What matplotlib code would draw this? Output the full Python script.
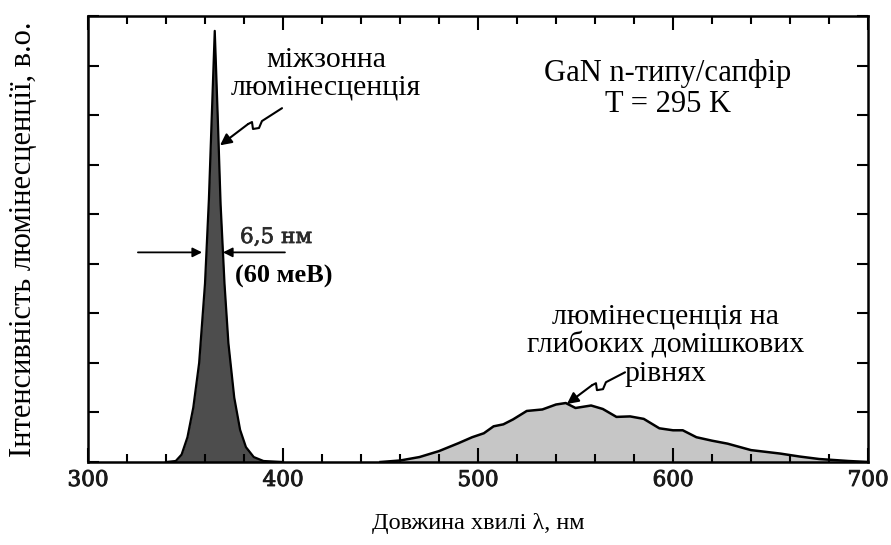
import numpy as np
import matplotlib
matplotlib.use("Agg")
import matplotlib.pyplot as plt
import matplotlib.patheffects as pe
from matplotlib.ticker import MultipleLocator

# Band-edge (interband) luminescence peak: wavelength (nm) and intensity (arb. units)
edge_wl = [340, 345, 348, 351, 354, 357, 360, 362, 363.5, 365, 366.5, 368, 370,
           372, 375, 378, 381, 385, 390, 400]
edge_int = [0.0, 0.02, 0.15, 0.5, 1.1, 2.0, 3.6, 5.3, 7.0, 8.7, 7.0, 5.2, 3.6,
            2.4, 1.3, 0.65, 0.3, 0.1, 0.02, 0.0]

# Deep-level (yellow band) luminescence
deep_wl = [450, 460, 470, 480, 490, 497, 503, 508, 513, 518, 525, 533, 540, 545,
           550, 558, 564, 571, 578, 585, 593, 600, 605, 612, 620, 628, 640, 655,
           665, 675, 690, 700]
deep_int = [0.0, 0.03, 0.1, 0.22, 0.38, 0.5, 0.58, 0.72, 0.76, 0.86, 1.03, 1.06,
            1.16, 1.19, 1.09, 1.14, 1.07, 0.91, 0.92, 0.87, 0.68, 0.64, 0.64, 0.5,
            0.43, 0.37, 0.24, 0.17, 0.11, 0.06, 0.02, 0.0]

xticks = [300, 400, 500, 600, 700]
xlabels = ["300", "400", "500", "600", "700"]

SERIF = ["Liberation Serif", "DejaVu Serif"]
heavy = [pe.withStroke(linewidth=0.7, foreground="#1a1a1a")]

fig = plt.figure(figsize=(8.91, 5.45), dpi=100)
ax = fig.add_axes([88 / 891, 1 - 462 / 545, (868 - 88) / 891, (462 - 16) / 545])

ax.fill_between(edge_wl, edge_int, color="#4d4d4d", lw=0)
ax.plot(edge_wl, edge_int, color="black", lw=1.6)
ax.fill_between(deep_wl, deep_int, color="#c6c6c6", lw=0)
ax.plot(deep_wl, deep_int, color="black", lw=1.8)

ax.set_xlim(300, 700)
ax.set_ylim(0, 9.0)
ax.set_xticks(xticks)
ax.set_xticklabels(xlabels, fontfamily="DejaVu Serif", fontsize=15.5, color="#1a1a1a",
                   path_effects=heavy)
ax.xaxis.set_minor_locator(MultipleLocator(20))
ax.yaxis.set_major_locator(MultipleLocator(1))
ax.tick_params(axis="both", which="both", direction="in", top=True, right=True,
               width=1.5, color="black")
ax.tick_params(axis="x", which="major", length=10, pad=5)
ax.tick_params(axis="x", which="minor", length=6)
ax.tick_params(axis="y", which="major", length=8, labelleft=False)
for sp in ax.spines.values():
    sp.set_linewidth(1.8)

ax.set_xlabel("Довжина хвилі λ, нм", fontfamily=SERIF, fontsize=17.5, labelpad=16)
ax.set_ylabel("Інтенсивність люмінесценції, в.о.", fontfamily=SERIF, fontsize=22,
              labelpad=36)

# Labels
ax.text(422, 7.83, "міжзонна\nлюмінесценція", fontfamily=SERIF, fontsize=21.5,
        ha="center", va="center", linespacing=1.1)
ax.text(597.4, 7.52, "GaN n-типу/сапфір\nT = 295 K", fontfamily=SERIF, fontsize=22,
        ha="center", va="center", linespacing=1.1)
ax.text(596, 2.36, "люмінесценція на\nглибоких домішкових\nрівнях", fontfamily=SERIF,
        fontsize=21.5, ha="center", va="center", linespacing=1.1)
ax.text(396.4, 4.54, "6,5 нм", fontfamily="DejaVu Serif", fontsize=15.5,
        color="#2a2a2a", ha="center", va="center",
        path_effects=[pe.withStroke(linewidth=0.5, foreground="#2a2a2a")])
ax.text(400.5, 3.75, "(60 меВ)", fontfamily=SERIF, fontsize=19, fontweight="bold",
        ha="center", va="center")

# FWHM arrows
arrow = dict(arrowstyle="-|>", color="black", lw=1.3, mutation_scale=14,
             shrinkA=0, shrinkB=0)
ax.annotate("", xy=(358.5, 4.23), xytext=(325.6, 4.23), arrowprops=arrow)
ax.annotate("", xy=(369.2, 4.23), xytext=(401, 4.23), arrowprops=arrow)

# Zig-zag pointer arrows
def zigzag(pts, tip):
    xs, ys = zip(*pts)
    ax.plot(xs, ys, color="black", lw=1.5, solid_joinstyle="round",
            solid_capstyle="round")
    ax.annotate("", xy=tip, xytext=pts[-1],
                arrowprops=dict(arrowstyle="-|>", color="black", lw=1.5,
                                mutation_scale=17, shrinkA=0, shrinkB=0))

zigzag([(399.5, 7.14), (389.2, 6.88), (387.7, 6.74), (384.6, 6.72),
        (384.1, 6.86), (382.1, 6.82)], (367.7, 6.39))
zigzag([(575.4, 1.81), (565.6, 1.61), (564.1, 1.47), (561.0, 1.45),
        (560.5, 1.59), (558.5, 1.55)], (545.6, 1.17))

fig.savefig("out.png", dpi=100)
